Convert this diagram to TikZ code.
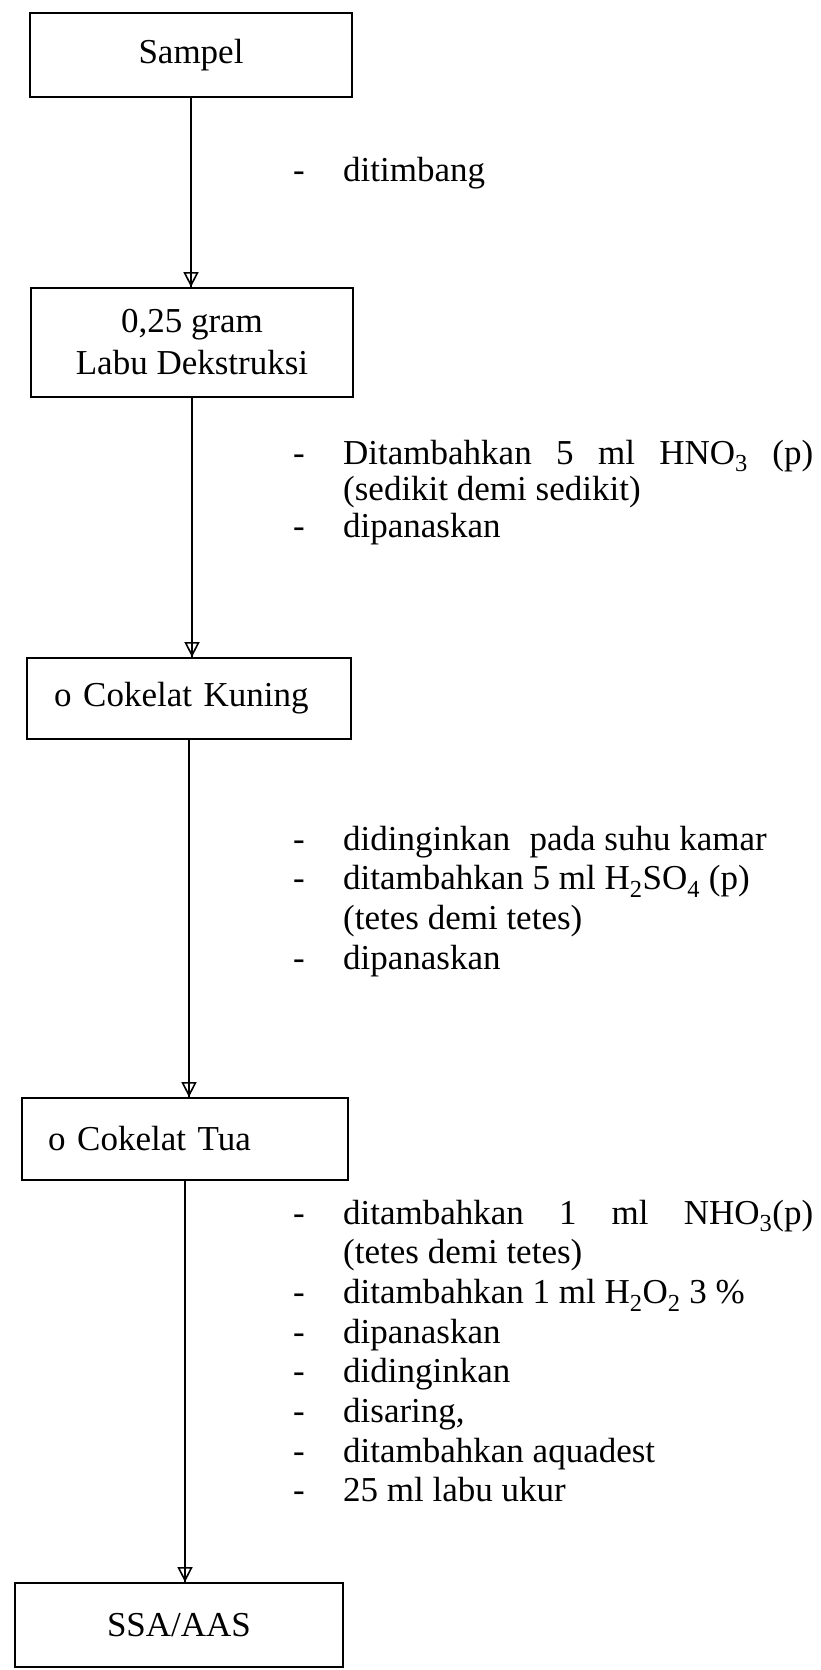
\documentclass[tikz,border=0pt]{standalone}
\usepackage{fontspec}
\setmainfont{Liberation Serif}
\usetikzlibrary{arrows.meta}
\begin{document}
\begin{tikzpicture}[x=1pt,y=-1pt,
  box/.style={draw, line width=1.8pt, rectangle, inner sep=0pt, align=center,
    font=\fontsize{35}{42}\selectfont},
  lbox/.style={box, align=left},
  conn/.style={line width=2pt},
  tipc/.style={line width=1.6pt, -{Triangle[open,length=15pt,width=15pt]}},
  steps/.style={anchor=base west, inner sep=0pt, font=\fontsize{35}{39.7}\selectfont},
  stepsb/.style={steps, font=\fontsize{35}{36.5}\selectfont}]
\useasboundingbox (0,0) rectangle (821,1670);

% boxes
\node[box, minimum width=322pt, minimum height=84pt] (b1) at (191,55) {Sampel};
\node[box, minimum width=322pt, minimum height=109pt] (b2) at (192,342.5) {0,25 gram\\Labu Dekstruksi};
\node[lbox, text width=270pt, inner xsep=27pt, minimum height=81pt] (b3) at (189,698.5) {o Cokelat Kuning};
\node[lbox, text width=274pt, inner xsep=26pt, minimum height=82pt] (b4) at (185,1139) {o Cokelat Tua};
\node[box, minimum width=328pt, minimum height=84pt] (b5) at (179,1625) {SSA/AAS};

% connectors
\foreach \a/\b in {b1/b2,b2/b3,b3/b4,b4/b5}{
  \draw[conn] (\a.south) -- (\a.south |- \b.north);
  \draw[tipc] (\a.south) -- (\a.south |- \b.north);
}

% step texts
\node[steps] (s1) at (293,181) {\begin{tabular}[t]{@{}p{50pt}@{}l@{}}
- & ditimbang
\end{tabular}};

\node[stepsb] (s2) at (293,464) {\begin{tabular}[t]{@{}p{50pt}@{}l@{}}
- & \makebox[470pt][s]{Ditambahkan 5 ml HNO\textsubscript{3} (p)}\\
  & (sedikit demi sedikit)\\
- & dipanaskan
\end{tabular}};

\node[steps] (s3) at (293,850) {\begin{tabular}[t]{@{}p{50pt}@{}l@{}}
- & didinginkan\hspace{0.3em} pada suhu kamar\\
- & ditambahkan 5 ml H\textsubscript{2}SO\textsubscript{4} (p)\\
  & (tetes demi tetes)\\
- & dipanaskan
\end{tabular}};

\node[steps] (s4) at (293,1224) {\begin{tabular}[t]{@{}p{50pt}@{}l@{}}
- & \makebox[470pt][s]{ditambahkan 1 ml NHO\textsubscript{3}(p)}\\
  & (tetes demi tetes)\\
- & ditambahkan 1 ml H\textsubscript{2}O\textsubscript{2} 3 \%\\
- & dipanaskan\\
- & didinginkan\\
- & disaring,\\
- & ditambahkan aquadest\\
- & 25 ml labu ukur
\end{tabular}};
\end{tikzpicture}
\end{document}
